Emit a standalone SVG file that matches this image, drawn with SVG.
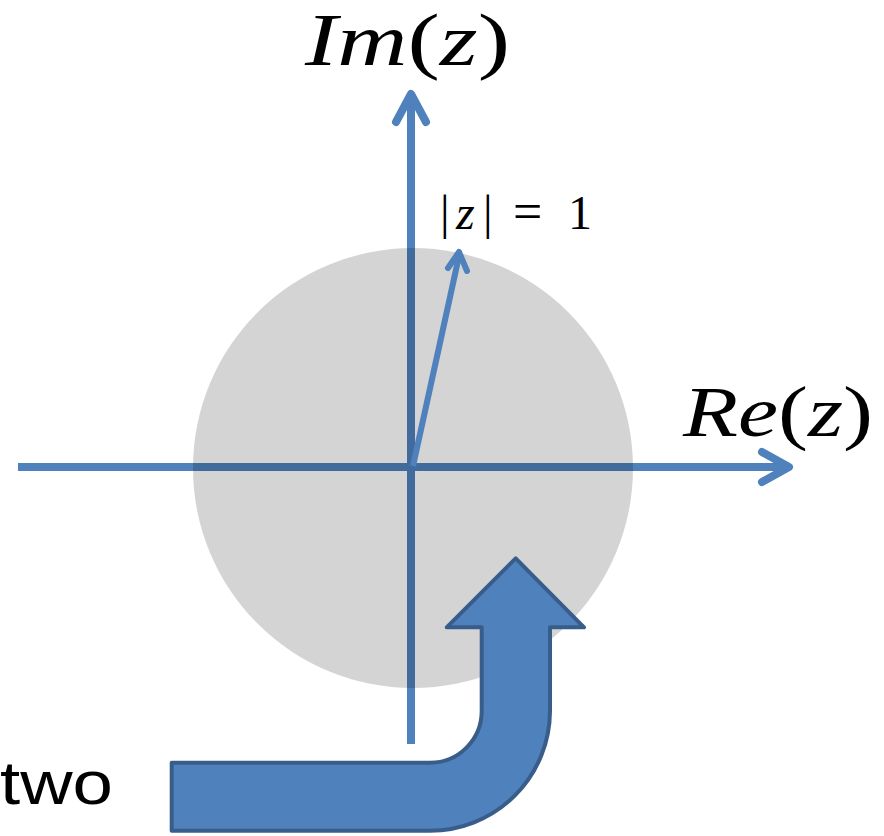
<svg xmlns="http://www.w3.org/2000/svg" width="884" height="836" viewBox="0 0 884 836">
<style>
.axis{fill:none;stroke:#4f81bd;stroke-width:8;}
.head{fill:none;stroke:#4f81bd;stroke-width:8;stroke-linecap:round;stroke-linejoin:round;}
.math{font-family:"Liberation Serif","DejaVu Serif",serif;fill:#000;}
.it{font-style:italic;}
</style>
<rect width="884" height="836" fill="#fff"/>
<g id="axes">
<line class="axis" x1="18" y1="467" x2="786" y2="467"/>
<polyline class="head" points="762,452 789,467 762,482"/>
<line class="axis" x1="411" y1="744" x2="411" y2="96"/>
<polyline class="head" points="396,122 411,94 426,122"/>
</g>
<g id="disc">
<circle cx="413" cy="468" r="220" fill="#000" fill-opacity="0.17"/>
</g>
<g id="connectors">
<line x1="413" y1="466" x2="459" y2="256" stroke="#4f81bd" stroke-width="6"/>
<polyline points="448,268 459,252 467,271" fill="none" stroke="#4f81bd" stroke-width="6" stroke-linecap="round" stroke-linejoin="round"/>
</g>
<g id="bent-arrow">
<path d="M171.7 762.7 L430 762.7 A51.7 51.7 0 0 0 481.7 711 L481.7 627.3 L446.7 627.3 L515.7 558.3 L584 627.3 L550 627.3 L550 711 A120 120 0 0 1 430 830.7 L171.7 830.7 Z" fill="#4f81bd" stroke="#385d8a" stroke-width="4" stroke-linejoin="round"/>
</g>
<g id="label-im">
<text class="math" x="305" y="65" font-size="74" textLength="205" lengthAdjust="spacingAndGlyphs"><tspan class="it">Im</tspan>(<tspan class="it">z</tspan>)</text>
</g>
<g id="label-re">
<text class="math" x="683" y="436" font-size="72" textLength="190" lengthAdjust="spacingAndGlyphs"><tspan class="it">Re</tspan>(<tspan class="it">z</tspan>)</text>
</g>
<g id="label-mod">
<text class="math" x="440" y="229" font-size="48">|<tspan class="it" x="456">z</tspan><tspan x="483">|</tspan> <tspan x="513" font-size="52">=</tspan> <tspan x="568">1</tspan></text>
</g>
<g id="label-two">
<text x="0" y="804" font-family="Liberation Sans, Arial, sans-serif" font-size="62" textLength="113" lengthAdjust="spacingAndGlyphs" fill="#000">two</text>
</g>
</svg>
